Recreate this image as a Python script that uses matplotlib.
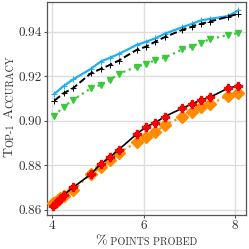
import numpy as np
import matplotlib
matplotlib.use("Agg")
import matplotlib.pyplot as plt
from matplotlib.transforms import offset_copy

plt.rcParams['font.family'] = ['cmr10', 'DejaVu Serif']
plt.rcParams['mathtext.fontset'] = 'cm'
plt.rcParams['axes.unicode_minus'] = False
plt.rcParams['axes.formatter.use_mathtext'] = True

# Data
pct = [4.05, 4.25, 4.46, 4.85, 5.06, 5.26, 5.46, 5.85, 6.06, 6.26, 6.46,
       6.85, 7.06, 7.25, 7.45, 7.85, 8.07]
acc_cyan = [0.9120, 0.9155, 0.9185, 0.9233, 0.9265, 0.9282, 0.9300, 0.9340,
            0.9355, 0.9370, 0.9390, 0.9420, 0.9435, 0.9450, 0.9457, 0.9470, 0.9495]
acc_dash = [0.9090, 0.9123, 0.9146, 0.9213, 0.9232, 0.9250, 0.9270, 0.9318,
            0.9333, 0.9355, 0.9375, 0.9408, 0.9422, 0.9435, 0.9445, 0.9467, 0.9480]
acc_green = [0.9021, 0.9063, 0.9093, 0.9146, 0.9160, 0.9183, 0.9210, 0.9243,
             0.9255, 0.9273, 0.9283, 0.9320, 0.9333, 0.9350, 0.9366, 0.9385, 0.9393]

pct_low = [4.03, 4.08, 4.13, 4.18, 4.25, 4.46, 4.85, 5.06, 5.26, 5.46, 5.85,
           6.06, 6.26, 6.46, 6.85, 7.06, 7.25, 7.45, 7.85, 8.07]
acc_red = [0.8617, 0.8628, 0.8640, 0.8650, 0.8666, 0.8700, 0.8760, 0.8805,
           0.8835, 0.8870, 0.8940, 0.8973, 0.8991, 0.9018, 0.9056, 0.9075,
           0.9093, 0.9105, 0.9146, 0.9157]
acc_orange = [0.8628, 0.8636, 0.8644, 0.8652, 0.8662, 0.8689, 0.8760, 0.8790,
              0.8823, 0.8856, 0.8903, 0.8925, 0.8948, 0.8980, 0.9018, 0.9038,
              0.9060, 0.9074, 0.9112, 0.9123]
xticks = [4, 6, 8]
yticks = [0.86, 0.88, 0.90, 0.92, 0.94]

fig = plt.figure(figsize=(2.49, 2.49), dpi=100)
ax = fig.add_axes([0.189, 0.1365, 0.799, 0.8555])

ax.plot(pct, acc_cyan, '-', color='#1EB0F0', lw=1.6, marker='+', ms=4.5, mew=0.7, zorder=3)
ax.plot(pct, acc_dash, '--', color='black', lw=1.4, marker='+', ms=4.5, mew=0.7, zorder=4)
ax.plot(pct, acc_green, ':', color='#3CC83C', lw=1.6, marker='v', ms=5, zorder=3)
ax.plot(pct_low, acc_orange, ':', color='#FF8C00', lw=1.6, marker='D', ms=6, zorder=3)
ax.plot(pct_low, acc_red, '-', color='black', lw=1.2, marker='o', ms=3.5, zorder=4)
ax.plot(pct_low, acc_red, linestyle='none', color='red', marker='P', ms=5.5, zorder=5)

ax.set_xlim(3.89, 8.24)
ax.set_ylim(0.8576, 0.9533)
ax.set_xticks(xticks)
ax.set_yticks(yticks)
ax.set_xticklabels([str(v) for v in xticks])
ax.set_yticklabels(['%.2f' % v for v in yticks])
ax.grid(True, color='#DDDDDD', lw=1.0)
ax.set_axisbelow(True)
for s in ax.spines.values():
    s.set_color('#555555')
    s.set_linewidth(0.9)
ax.tick_params(labelsize=9.5, length=2, width=0.8, color='#555555',
               labelcolor='#333333', pad=1.5)


def sc_label(x, y, parts, rot):
    # fake small caps: pieces of text with different sizes, baseline aligned
    r = fig.canvas.get_renderer()
    lens = []
    for s, fs in parts:
        t = fig.text(0, 0, s, fontsize=fs)
        lens.append(t.get_window_extent(r).width)
        t.remove()
    pos = -sum(lens) / 2
    for (s, fs), L in zip(parts, lens):
        dx, dy = (0, pos) if rot else (pos, 0)
        tr = offset_copy(fig.transFigure, fig=fig, x=dx, y=dy, units='dots')
        fig.text(x, y, s, fontsize=fs, color='#333333', rotation=90 if rot else 0,
                 rotation_mode='anchor', ha='left', va='baseline', transform=tr)
        pos += L


sc_label(0.588, 0.018, [('%', 10), (' POINTS PROBED', 7.3)], False)
sc_label(0.052, 0.574, [('T', 10), ('OP-1', 7.3), (' A', 10), ('CCURACY', 7.3)], True)

fig.savefig('out.png', dpi=100)
